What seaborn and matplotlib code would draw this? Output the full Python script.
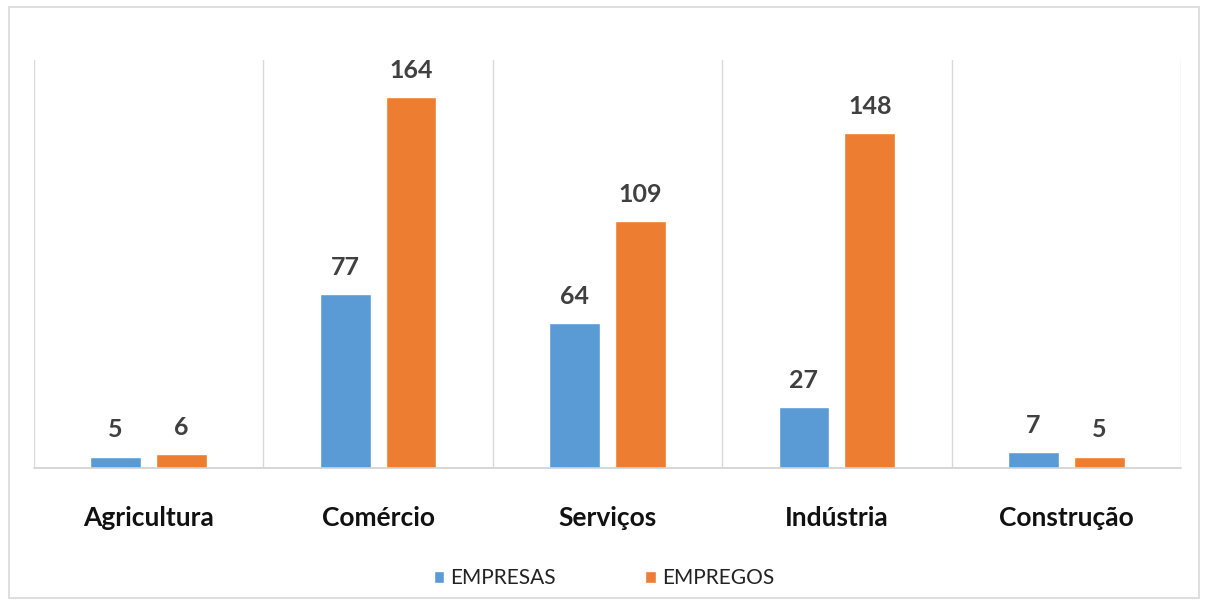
import pandas as pd
import seaborn as sns
import matplotlib.pyplot as plt
from matplotlib.patches import Rectangle

# valores
setores = ["Agricultura", "Comércio", "Serviços", "Indústria", "Construção"]
empresas = [5, 77, 64, 27, 7]
empregos = [6, 164, 109, 148, 5]
series = ["EMPRESAS", "EMPREGOS"]
cores = ["#5B9BD5", "#ED7D31"]

df = pd.DataFrame({
    "setor": setores * 2,
    "serie": [series[0]] * len(setores) + [series[1]] * len(setores),
    "valor": empresas + empregos,
})

sns.set_style("white")
plt.rcParams["font.family"] = ["Lato", "DejaVu Sans"]

fig = plt.figure(figsize=(12.08, 6.01), dpi=100)
ax = fig.add_axes([34 / 1208, 1 - 468 / 601, (1181 - 34) / 1208, (468 - 60) / 601])

sns.barplot(data=df, x="setor", y="valor", hue="serie", palette=cores,
            width=0.575, gap=0.23, ax=ax, legend=True, saturation=1)

ax.set_ylim(0, 180.4)
ax.set_xlim(-0.5, len(setores) - 0.5)
ax.set_xlabel("")
ax.set_ylabel("")
ax.set_yticks([])
for s in ax.spines.values():
    s.set_visible(False)
ax.axhline(0, color="#d0d0d0", lw=1.2, clip_on=False)
for i in range(len(setores) + 1):
    ax.axvline(i - 0.5, color="#d9d9d9", lw=1)

ax.tick_params(axis="x", length=0, pad=27)
for t in ax.get_xticklabels():
    t.set_fontsize(19)
    t.set_fontweight("bold")
    t.set_color("#111111")

for cont in ax.containers:
    ax.bar_label(cont, padding=11, fontsize=18, fontweight="bold", color="#404040")

leg = ax.legend(loc="center", bbox_to_anchor=(0.5, 1 - 578 / 601),
                bbox_transform=fig.transFigure, ncol=2, frameon=False,
                fontsize=15, handlelength=0.5, handleheight=0.5,
                columnspacing=4.3, handletextpad=0.3)
for t in leg.get_texts():
    t.set_color("#222222")

fig.patches.append(Rectangle((9 / 1208, 3 / 601), 1190 / 1208, 591 / 601,
                             transform=fig.transFigure, fill=False,
                             edgecolor="#d9d9d9", lw=1.2))

fig.savefig("out.png", dpi=100)
